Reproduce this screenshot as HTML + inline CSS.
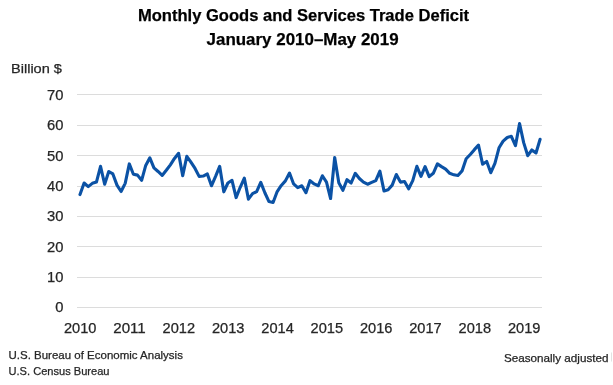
<!DOCTYPE html>
<html><head><meta charset="utf-8"><style>
html,body{margin:0;padding:0;background:#fff;width:613px;height:385px;overflow:hidden}
svg{position:absolute;left:0;top:0;display:block;will-change:transform}
text{font-family:"Liberation Sans",sans-serif;fill:#262626;stroke:#262626;stroke-width:0.25px}
</style></head><body>
<svg width="613" height="385" viewBox="0 0 613 385">
<rect width="613" height="385" fill="#fff"/>
<text x="303.5" y="21.2" font-size="17.4" text-anchor="middle" font-weight="bold" textLength="331.2" lengthAdjust="spacingAndGlyphs" style="fill:#000;stroke:#000">Monthly Goods and Services Trade Deficit</text>
<text x="302.6" y="44.7" font-size="17.4" text-anchor="middle" font-weight="bold" textLength="192.0" lengthAdjust="spacingAndGlyphs" style="fill:#000;stroke:#000">January 2010&#8211;May 2019</text>
<text x="11" y="73.3" font-size="13.3" text-anchor="start" textLength="50.9" lengthAdjust="spacingAndGlyphs" style="fill:#262626;stroke:#262626">Billion $</text>
<rect x="77" y="307.00" width="465" height="1" fill="#dcdcdc"/>
<rect x="77" y="277.00" width="465" height="1" fill="#dcdcdc"/>
<rect x="77" y="246.00" width="465" height="1" fill="#dcdcdc"/>
<rect x="77" y="216.00" width="465" height="1" fill="#dcdcdc"/>
<rect x="77" y="186.00" width="465" height="1" fill="#dcdcdc"/>
<rect x="77" y="155.00" width="465" height="1" fill="#dcdcdc"/>
<rect x="77" y="125.00" width="465" height="1" fill="#dcdcdc"/>
<rect x="77" y="94.00" width="465" height="1" fill="#dcdcdc"/>
<g font-size="14.1">
<text x="63.5" y="312.30" text-anchor="end" textLength="8.2" lengthAdjust="spacingAndGlyphs">0</text>
<text x="63.5" y="281.94" text-anchor="end" textLength="16.4" lengthAdjust="spacingAndGlyphs">10</text>
<text x="63.5" y="251.58" text-anchor="end" textLength="16.4" lengthAdjust="spacingAndGlyphs">20</text>
<text x="63.5" y="221.22" text-anchor="end" textLength="16.4" lengthAdjust="spacingAndGlyphs">30</text>
<text x="63.5" y="190.86" text-anchor="end" textLength="16.4" lengthAdjust="spacingAndGlyphs">40</text>
<text x="63.5" y="160.50" text-anchor="end" textLength="16.4" lengthAdjust="spacingAndGlyphs">50</text>
<text x="63.5" y="130.14" text-anchor="end" textLength="16.4" lengthAdjust="spacingAndGlyphs">60</text>
<text x="63.5" y="99.78" text-anchor="end" textLength="16.4" lengthAdjust="spacingAndGlyphs">70</text>
<text x="80.20" y="333" text-anchor="middle" textLength="32.5" lengthAdjust="spacingAndGlyphs">2010</text>
<text x="129.53" y="333" text-anchor="middle" textLength="32.5" lengthAdjust="spacingAndGlyphs">2011</text>
<text x="178.86" y="333" text-anchor="middle" textLength="32.5" lengthAdjust="spacingAndGlyphs">2012</text>
<text x="228.19" y="333" text-anchor="middle" textLength="32.5" lengthAdjust="spacingAndGlyphs">2013</text>
<text x="277.52" y="333" text-anchor="middle" textLength="32.5" lengthAdjust="spacingAndGlyphs">2014</text>
<text x="326.85" y="333" text-anchor="middle" textLength="32.5" lengthAdjust="spacingAndGlyphs">2015</text>
<text x="376.18" y="333" text-anchor="middle" textLength="32.5" lengthAdjust="spacingAndGlyphs">2016</text>
<text x="425.51" y="333" text-anchor="middle" textLength="32.5" lengthAdjust="spacingAndGlyphs">2017</text>
<text x="474.84" y="333" text-anchor="middle" textLength="32.5" lengthAdjust="spacingAndGlyphs">2018</text>
<text x="524.17" y="333" text-anchor="middle" textLength="32.5" lengthAdjust="spacingAndGlyphs">2019</text>
</g>
<polyline points="80.00,194.56 84.11,183.02 88.22,186.67 92.32,183.33 96.43,182.11 100.54,166.33 104.65,184.24 108.76,171.49 112.86,173.92 116.97,185.15 121.08,191.52 125.19,183.33 129.30,163.90 133.40,174.22 137.51,175.13 141.62,180.29 145.73,165.42 149.84,157.83 153.94,167.84 158.05,171.49 162.16,175.43 166.27,170.27 170.38,164.81 174.48,158.43 178.59,153.27 182.70,175.74 186.81,156.31 190.92,162.08 195.03,168.45 199.13,176.34 203.24,176.04 207.35,173.92 211.46,185.76 215.57,176.34 219.67,166.33 223.78,191.83 227.89,183.02 232.00,180.29 236.11,197.60 240.21,187.27 244.32,178.17 248.43,199.11 252.54,193.65 256.65,191.52 260.75,182.42 264.86,192.74 268.97,201.54 273.08,202.45 277.19,191.52 281.29,185.45 285.40,180.90 289.51,173.01 293.62,183.93 297.73,187.58 301.83,185.76 305.94,192.74 310.05,180.60 314.16,183.93 318.27,185.76 322.37,175.74 326.48,182.11 330.59,198.51 334.70,157.52 338.81,182.72 342.91,190.31 347.02,179.68 351.13,183.02 355.24,173.31 359.35,178.47 363.45,182.11 367.56,184.24 371.67,182.42 375.78,180.60 379.89,171.18 383.99,190.92 388.10,189.70 392.21,185.15 396.32,174.52 400.43,182.11 404.53,181.51 408.64,188.79 412.75,180.60 416.86,166.33 420.97,176.34 425.07,166.63 429.18,176.65 433.29,173.31 437.40,163.90 441.51,166.63 445.62,169.06 449.72,173.31 453.83,174.83 457.94,175.43 462.05,170.88 466.16,158.74 470.26,154.49 474.37,149.63 478.48,145.07 482.59,164.20 486.70,161.47 490.80,172.70 494.91,163.29 499.02,147.81 503.13,141.13 507.24,137.48 511.34,136.27 515.45,145.68 519.56,123.52 523.67,142.65 527.78,155.70 531.88,149.93 535.99,152.97 540.10,139.31" fill="none" stroke="#0b52a5" stroke-width="3.1" stroke-linejoin="round" stroke-linecap="round"/>
<text x="8.5" y="359.2" font-size="11.3" text-anchor="start" textLength="174.4" lengthAdjust="spacingAndGlyphs" style="fill:#262626;stroke:#262626">U.S. Bureau of Economic Analysis</text>
<text x="8.5" y="374.5" font-size="11.3" text-anchor="start" textLength="101" lengthAdjust="spacingAndGlyphs" style="fill:#262626;stroke:#262626">U.S. Census Bureau</text>
<text x="608.5" y="361.6" font-size="11.3" text-anchor="end" textLength="104.6" lengthAdjust="spacingAndGlyphs" style="fill:#262626;stroke:#262626">Seasonally adjusted</text>
<rect x="611" y="352.5" width="1" height="9" fill="#e2e2e2"/>
</svg>
</body></html>
